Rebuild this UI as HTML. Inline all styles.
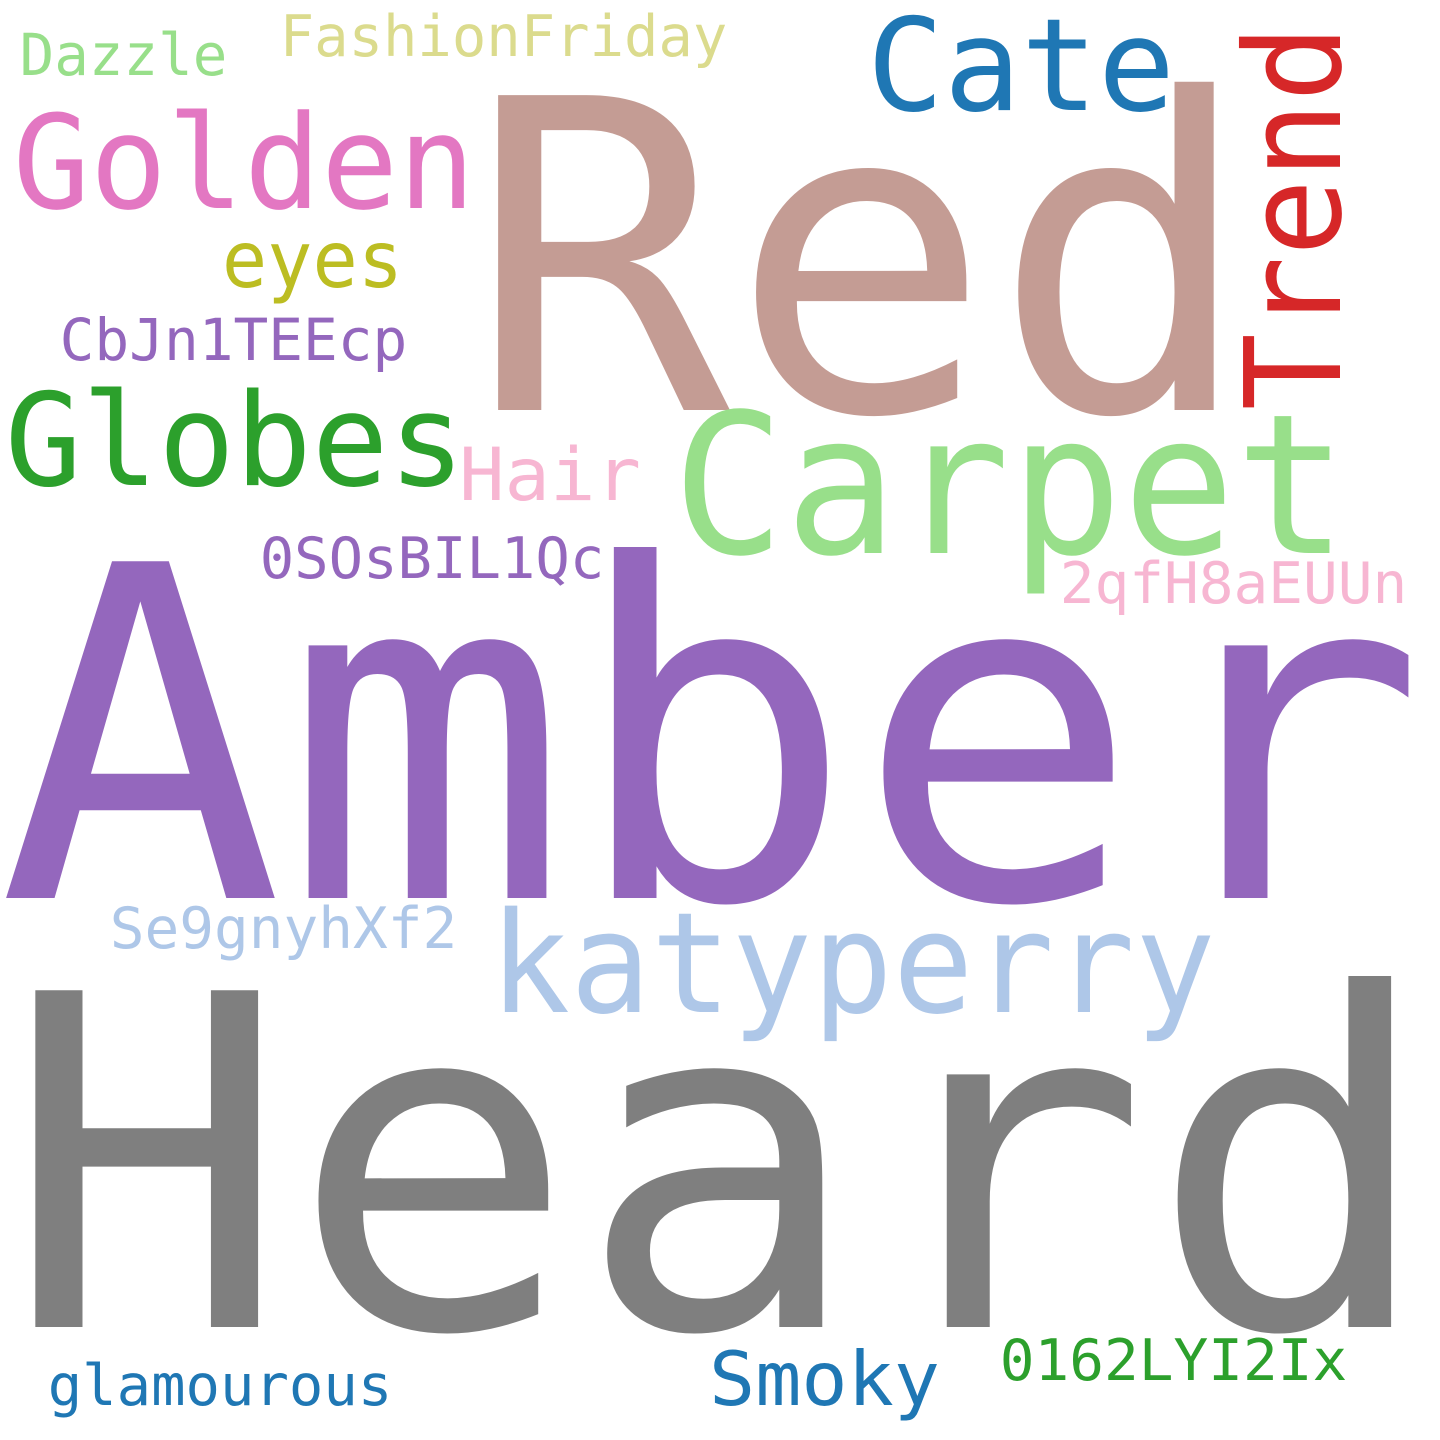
<!DOCTYPE html>
<html><head><meta charset="utf-8"><style>
html,body{margin:0;padding:0;background:#fff;}
svg{display:block;}
text{font-family:"DejaVu Sans Mono","Liberation Mono",monospace;}
</style></head><body>
<svg width="1440" height="1440" viewBox="0 0 1440 1440">
<rect width="1440" height="1440" fill="#fff"/>
<g id="words"></g>
</svg>
<script>
const words = ["Heard","Amber","Red","Carpet","katyperry","Globes","Golden","Cate","Trend","eyes","CbJn1TEEcp","Dazzle","FashionFriday","Hair","0SOsBIL1Qc","2qfH8aEUUn","Se9gnyhXf2","glamourous","Smoky","0162LYI2Ix"];
const colors = ["#7f7f7f","#9467bd","#c49c94","#98df8a","#aec7e8","#2ca02c","#e377c2","#1f77b4","#d62728","#bcbd22","#9467bd","#98df8a","#dbdb8d","#f7b6d2","#9467bd","#f7b6d2","#aec7e8","#1f77b4","#1f77b4","#2ca02c"];
// layout: [x, baseline y, ink width, font size, rotated]
const layout = [
 [22,1327,1395,462,0],[16,898,1392,462,0],[485,410,752,432,0],[680,553,660,195,0],
 [495,1012,715,140,0],[10,485,450,128,0],[18,208,452,130,0],[872,110,298,128,0],
 [1340,405,375,133,1],[225,287,175,78,0],[62,360,343,58,0],[22,75,203,58,0],
 [282,56,443,57,0],[462,500,176,73,0],[262,578,340,57,0],[1062,603,343,57,0],
 [112,948,343,57,0],[50,1405,340,57,0],[712,1405,225,75,0],[1002,1380,343,57,0]
];
const g = document.getElementById('words');
const NS = "http://www.w3.org/2000/svg";
words.forEach((w,i)=>{
  const [x,y,wd,fs,rot] = layout[i];
  const t = document.createElementNS(NS,'text');
  
  
  t.setAttribute('font-size', fs);
  t.setAttribute('fill', colors[i]);
  t.setAttribute('textLength', wd + 0.08*fs);
  t.setAttribute('lengthAdjust', 'spacingAndGlyphs');
  if (rot) {
    t.setAttribute('x', -0.04*fs);
    t.setAttribute('y', 0);
    t.setAttribute('transform', 'translate(' + x + ',' + y + ') rotate(-90)');
  } else {
    t.setAttribute('x', x - 0.04*fs);
    t.setAttribute('y', y);
  }
  t.textContent = w;
  g.appendChild(t);
});
</script>
</body></html>
